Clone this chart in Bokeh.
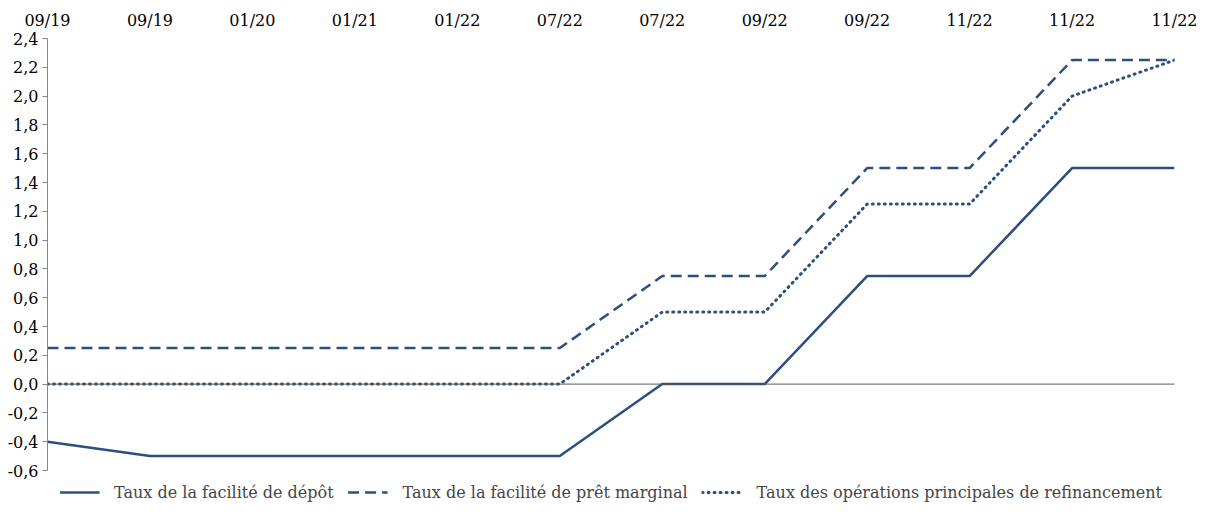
from bokeh.plotting import figure
from bokeh.models import Legend, LegendItem, FixedTicker, Span, Range1d, Title
from bokeh.embed import file_html
from bokeh.resources import INLINE

dates = ["09/19", "09/19", "01/20", "01/21", "01/22", "07/22", "07/22", "09/22", "09/22", "11/22", "11/22", "11/22"]
depot = [-0.4, -0.5, -0.5, -0.5, -0.5, -0.5, 0.0, 0.0, 0.75, 0.75, 1.5, 1.5]
marginal = [0.25, 0.25, 0.25, 0.25, 0.25, 0.25, 0.75, 0.75, 1.5, 1.5, 2.25, 2.25]
refi = [0.0, 0.0, 0.0, 0.0, 0.0, 0.0, 0.5, 0.5, 1.25, 1.25, 2.0, 2.25]
yticks = [-0.6, -0.4, -0.2, 0.0, 0.2, 0.4, 0.6, 0.8, 1.0, 1.2, 1.4, 1.6, 1.8, 2.0, 2.2, 2.4]

FONT = "DejaVu Serif"
COL = "#2C4E80"
x = list(range(len(dates)))

p = figure(frame_width=1127, frame_height=432, output_backend="svg", toolbar_location=None,
           x_axis_location="above", min_border_left=47, min_border_right=29,
           min_border_top=0, min_border_bottom=0)
p.x_range = Range1d(0, len(dates) - 1)
p.y_range = Range1d(-0.6, 2.4)
p.outline_line_color = None
p.grid.visible = False

p.xaxis.ticker = FixedTicker(ticks=x)
p.xaxis.major_label_overrides = {i: d for i, d in enumerate(dates)}
p.xaxis.axis_line_color = None
p.xaxis.major_tick_line_color = None
p.xaxis.minor_tick_line_color = None
p.xaxis.major_label_standoff = 3

p.yaxis.ticker = FixedTicker(ticks=yticks)
p.yaxis.major_label_overrides = {t: f"{t:.1f}".replace(".", ",") for t in yticks}
p.yaxis.axis_line_color = "#868686"
p.yaxis.major_tick_line_color = "#868686"
p.yaxis.major_tick_in = 0
p.yaxis.major_tick_out = 5
p.yaxis.minor_tick_line_color = None
p.yaxis.major_label_standoff = 4

for ax in (p.xaxis, p.yaxis):
    ax.major_label_text_font = FONT
    ax.major_label_text_font_size = "16px"
    ax.major_label_text_color = "#000000"

p.add_layout(Span(location=0, dimension="width", line_color="#595959", line_width=1))

r1 = p.line(x, depot, line_color=COL, line_width=2.5)
r2 = p.line(x, marginal, line_color=COL, line_width=2.5, line_dash="11 6")
r3 = p.line(x, refi, line_color=COL, line_width=3, line_dash="1 5", line_cap="round")

# spacer above the top axis labels
p.add_layout(Title(text=" ", text_font_size="4px", standoff=0), "above")

legend = Legend(items=[LegendItem(label="Taux de la facilité de dépôt", renderers=[r1]),
                       LegendItem(label="Taux de la facilité de prêt marginal", renderers=[r2]),
                       LegendItem(label="Taux des opérations principales de refinancement", renderers=[r3])],
                orientation="horizontal", location="top_center", border_line_color=None,
                background_fill_alpha=0,
                label_text_font=FONT, label_text_font_size="16px", glyph_width=40,
                spacing=14, padding=3, margin=12, label_standoff=15)
p.add_layout(legend, "below")

open("out.html", "w").write(file_html(p, INLINE))
